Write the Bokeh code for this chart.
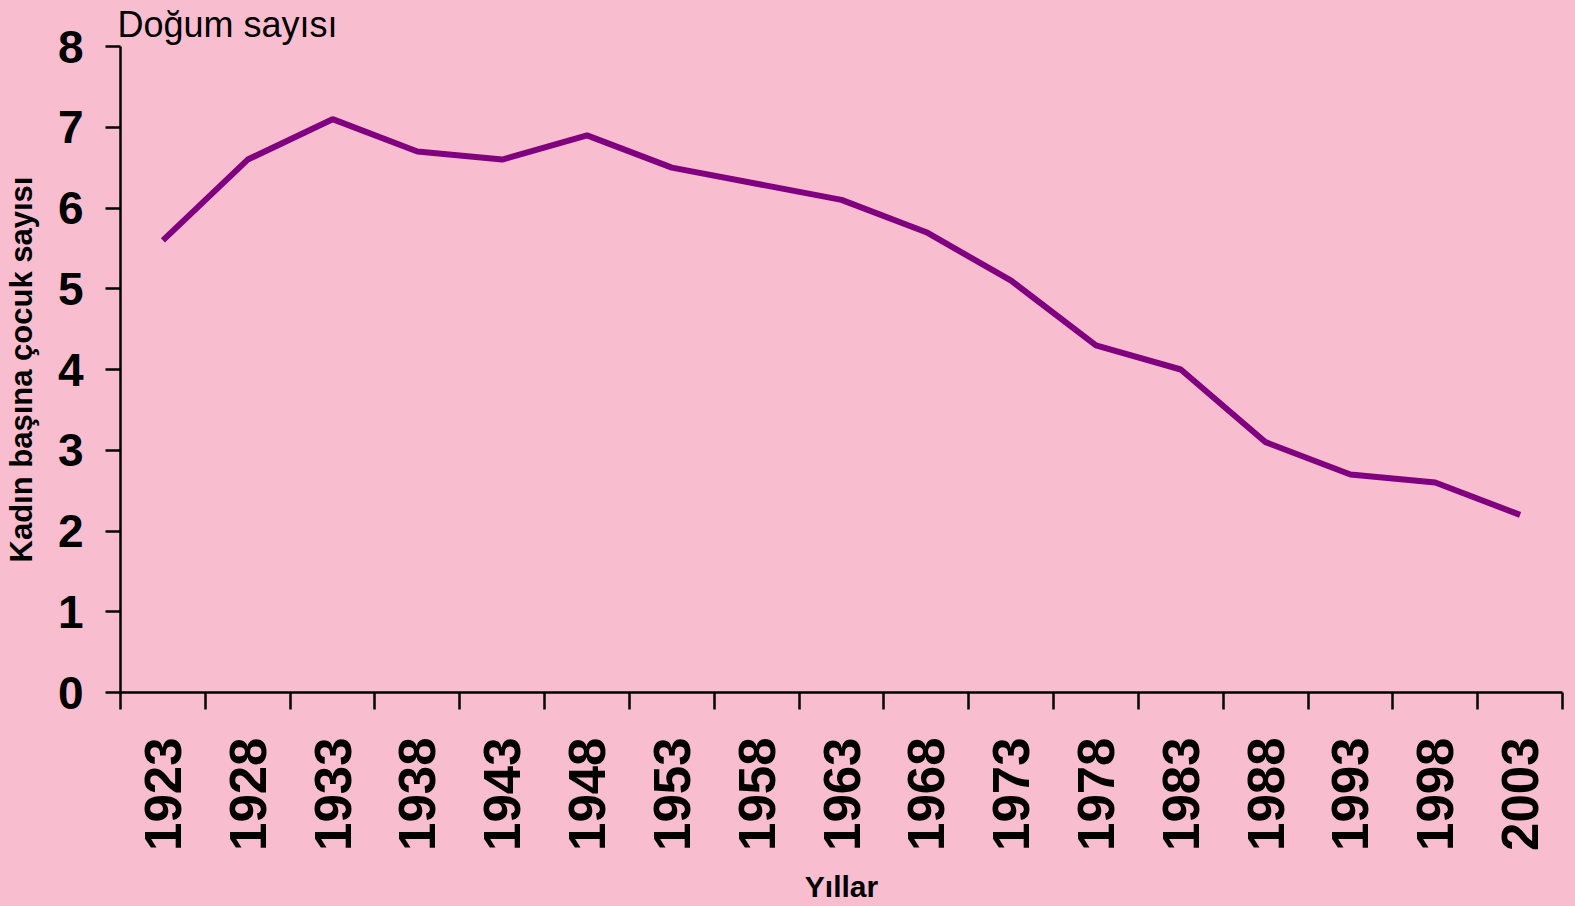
import math
from bokeh.plotting import figure
from bokeh.models import FixedTicker, Range1d, Title
from bokeh.embed import file_html
from bokeh.resources import INLINE

years = ["1923", "1928", "1933", "1938", "1943", "1948", "1953", "1958", "1963",
         "1968", "1973", "1978", "1983", "1988", "1993", "1998", "2003"]
tfr = [5.6, 6.6, 7.1, 6.7, 6.6, 6.9, 6.5, 6.3, 6.1, 5.7, 5.1, 4.3, 4.0, 3.1, 2.7, 2.6, 2.2]
y_ticks = [0, 1, 2, 3, 4, 5, 6, 7, 8]

BG = "#F9BDD0"
FONT = "Liberation Sans"

n = len(years)
xs = [i + 0.5 for i in range(n)]

p = figure(width=1575, height=906, output_backend="svg", toolbar_location=None,
           x_range=Range1d(0, n), y_range=Range1d(0, 8),
           min_border_left=120, min_border_right=13, min_border_top=42, min_border_bottom=214)
p.background_fill_color = BG
p.border_fill_color = BG
p.outline_line_color = None
p.xgrid.grid_line_color = None
p.ygrid.grid_line_color = None

p.title = Title(text="Doğum sayısı", align="left", offset=-3, standoff=3,
                text_font=FONT, text_font_size="36px", text_font_style="normal",
                text_color="black")

p.line(xs, tfr, line_color="#800080", line_width=6)

xa = p.xaxis[0]
xa.ticker = FixedTicker(ticks=xs, minor_ticks=list(range(n + 1)))
xa.major_label_overrides = {x: y for x, y in zip(xs, years)}
xa.major_label_orientation = math.pi / 2
xa.major_tick_out = 0
xa.major_tick_in = 0
xa.minor_tick_out = 17
xa.minor_tick_in = 0
xa.minor_tick_line_color = "black"
xa.minor_tick_line_width = 2.5
xa.axis_line_color = "black"
xa.axis_line_width = 2.5
xa.major_label_text_font = FONT
xa.major_label_text_font_style = "bold"
xa.major_label_text_font_size = "51px"
xa.major_label_text_color = "black"
xa.major_label_standoff = 28
xa.axis_label = "Yıllar"
xa.axis_label_text_font = FONT
xa.axis_label_text_font_style = "bold"
xa.axis_label_text_font_size = "30px"
xa.axis_label_text_color = "black"
xa.axis_label_standoff = 16

ya = p.yaxis[0]
ya.ticker = FixedTicker(ticks=y_ticks)
ya.major_tick_out = 15
ya.major_tick_in = 0
ya.major_tick_line_color = "black"
ya.major_tick_line_width = 2.5
ya.minor_tick_out = 0
ya.minor_tick_in = 0
ya.axis_line_color = "black"
ya.axis_line_width = 2.5
ya.major_label_text_font = FONT
ya.major_label_text_font_style = "bold"
ya.major_label_text_font_size = "46px"
ya.major_label_text_color = "black"
ya.major_label_standoff = 22
ya.axis_label = "Kadın başına çocuk sayısı"
ya.axis_label_text_font = FONT
ya.axis_label_text_font_style = "bold"
ya.axis_label_text_font_size = "31px"
ya.axis_label_text_color = "black"
ya.axis_label_standoff = 16

html = file_html(p, INLINE)
html = html.replace("</head>", "<style>html,body{background:%s;}</style></head>" % BG, 1)
open("out.html", "w").write(html)
